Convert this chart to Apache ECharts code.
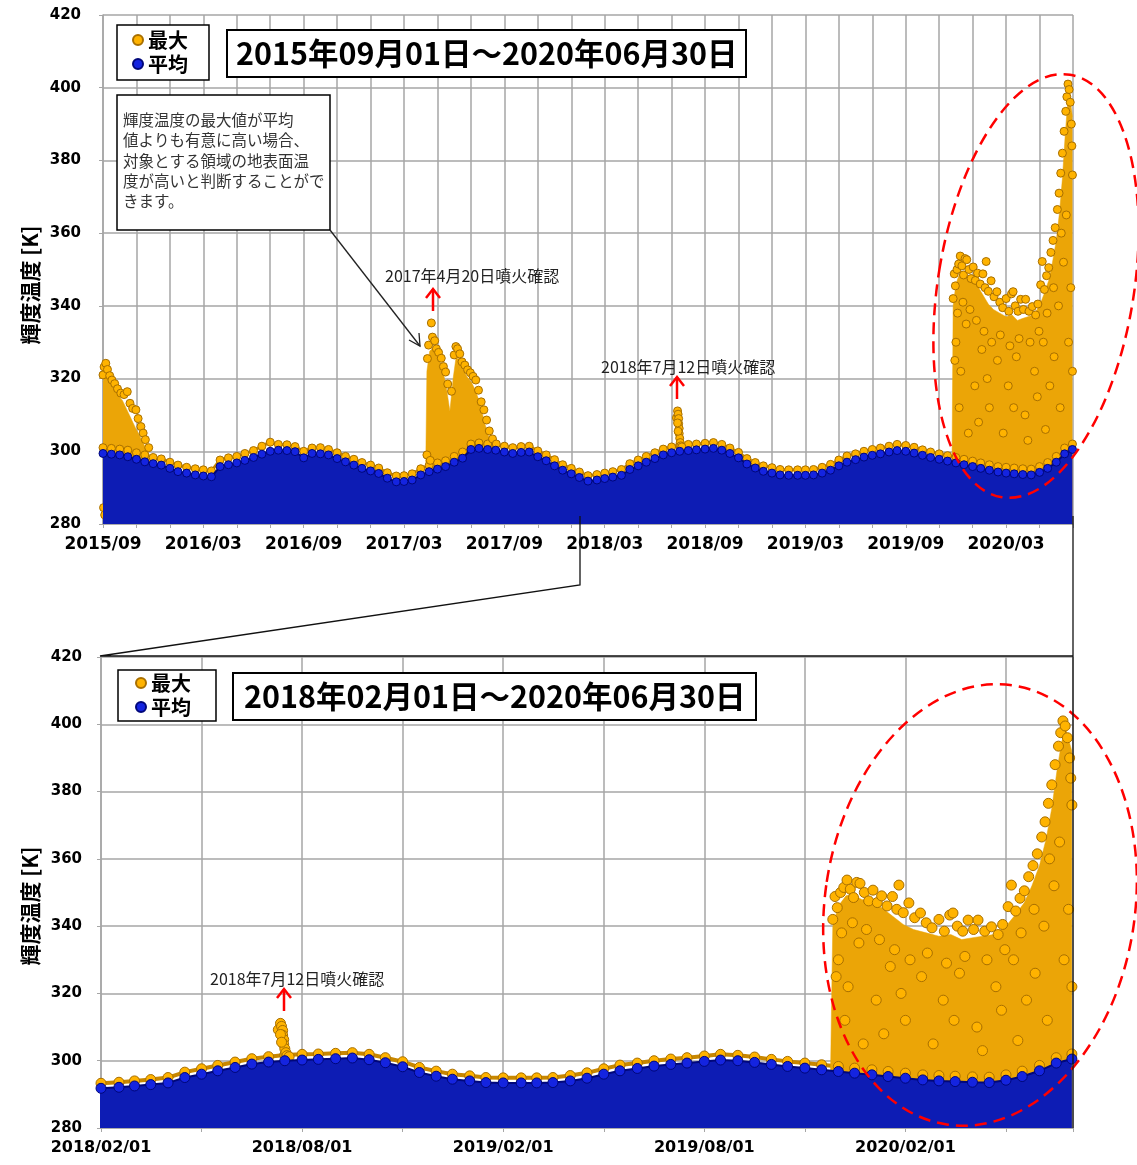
<!DOCTYPE html>
<html><head><meta charset="utf-8">
<script src="https://cdn.jsdelivr.net/npm/echarts@6/dist/echarts.min.js"></script>
<style>html,body{margin:0;padding:0;background:#fff}#c{width:1137px;height:1165px}</style>
</head><body><div id="c"></div>
<script>
// ---- sampling dates (half-month) ----
const halfMonthDates = [
"2015-09-01","2015-09-16","2015-10-01","2015-10-16","2015-11-01","2015-11-16","2015-12-01","2015-12-16",
"2016-01-01","2016-01-16","2016-02-01","2016-02-16","2016-03-01","2016-03-16","2016-04-01","2016-04-16","2016-05-01","2016-05-16","2016-06-01","2016-06-16","2016-07-01","2016-07-16","2016-08-01","2016-08-16","2016-09-01","2016-09-16","2016-10-01","2016-10-16","2016-11-01","2016-11-16","2016-12-01","2016-12-16",
"2017-01-01","2017-01-16","2017-02-01","2017-02-16","2017-03-01","2017-03-16","2017-04-01","2017-04-16","2017-05-01","2017-05-16","2017-06-01","2017-06-16","2017-07-01","2017-07-16","2017-08-01","2017-08-16","2017-09-01","2017-09-16","2017-10-01","2017-10-16","2017-11-01","2017-11-16","2017-12-01","2017-12-16",
"2018-01-01","2018-01-16","2018-02-01","2018-02-16","2018-03-01","2018-03-16","2018-04-01","2018-04-16","2018-05-01","2018-05-16","2018-06-01","2018-06-16","2018-07-01","2018-07-16","2018-08-01","2018-08-16","2018-09-01","2018-09-16","2018-10-01","2018-10-16","2018-11-01","2018-11-16","2018-12-01","2018-12-16",
"2019-01-01","2019-01-16","2019-02-01","2019-02-16","2019-03-01","2019-03-16","2019-04-01","2019-04-16","2019-05-01","2019-05-16","2019-06-01","2019-06-16","2019-07-01","2019-07-16","2019-08-01","2019-08-16","2019-09-01","2019-09-16","2019-10-01","2019-10-16","2019-11-01","2019-11-16","2019-12-01","2019-12-16",
"2020-01-01","2020-01-16","2020-02-01","2020-02-16","2020-03-01","2020-03-16","2020-04-01","2020-04-16","2020-05-01","2020-05-16","2020-06-01","2020-06-16","2020-06-30"];

// 平均 (mean) : upper edge of the dense band
const meanTop = [
299.4,299.2,299.0,298.5,297.8,297.1,296.6,296.2,
295.3,294.4,294.0,293.5,293.2,293.0,295.8,296.3,296.8,297.5,298.3,299.2,300.0,300.3,300.2,299.9,298.2,299.4,299.3,299.0,298.0,297.1,296.2,295.3,
294.6,293.9,292.6,291.6,291.7,292.1,293.5,294.4,295.1,295.8,297.0,298.1,300.5,300.8,300.5,300.3,299.8,299.4,299.7,299.8,298.5,297.4,296.0,294.8,
293.8,292.8,291.8,292.1,292.5,292.9,293.4,295.0,296.0,297.0,298.0,299.0,299.6,300.0,300.2,300.4,300.6,300.8,300.3,299.4,298.2,296.5,295.4,294.5,
294.0,293.5,293.4,293.4,293.4,293.5,294.0,294.8,296.0,297.0,297.7,298.4,298.9,299.3,299.8,300.2,300.0,299.5,298.9,298.3,297.8,297.3,296.8,296.3,
295.8,295.3,294.8,294.3,294.0,293.8,293.6,293.5,294.2,295.3,297.0,299.3,300.5];

// 最大 (max) : thin rim just above the mean band
const maxRim = [
301.0,300.8,300.6,300.3,299.6,299.0,298.3,297.9,
297.0,296.2,295.6,295.2,294.9,294.6,297.6,298.2,298.6,299.4,300.2,301.4,302.5,301.9,301.8,301.3,300.0,300.9,301.0,300.5,299.6,298.6,297.8,296.9,
296.2,295.4,294.1,293.2,293.3,293.8,295.2,296.1,296.8,297.4,298.6,299.8,302.0,302.3,302.0,301.9,301.4,301.0,301.3,301.4,300.1,299.0,297.7,296.3,
295.3,294.3,293.3,293.6,294.0,294.4,295.0,296.6,297.6,298.6,299.6,300.6,301.2,301.7,301.9,302.0,302.2,302.4,301.9,300.9,299.7,298.0,296.9,296.0,
295.5,295.0,294.9,294.9,294.9,295.0,295.6,296.4,297.6,298.7,299.3,300.0,300.5,300.9,301.4,301.9,301.6,301.1,300.4,299.8,299.3,298.8,298.3,297.8,
297.3,296.8,296.3,295.8,295.6,295.4,295.2,295.1,295.8,296.9,298.6,300.9,302.0];

// dense cores of the max-value clouds (upper edge)
const maxCore2015 = [["2015-09-01",319],["2015-09-06",322],["2015-09-12",319.5],["2015-09-20",317.5],["2015-09-28",315.5],["2015-10-06",314],["2015-10-14",311.5],["2015-10-22",309],["2015-10-30",306.5],["2015-11-06",304.5],["2015-11-14",302],["2015-11-22",299.5],["2015-11-28",298]];
const maxCore2017 = [["2017-04-10",297],["2017-04-12",322],["2017-04-17",327.5],["2017-04-23",328.5],["2017-04-30",326.5],["2017-05-06",324.5],["2017-05-12",321.5],["2017-05-18",317],["2017-05-24",311],["2017-05-30",320],["2017-06-04",325.5],["2017-06-10",325.5],["2017-06-17",322.5],["2017-06-24",320.5],["2017-07-02",319],["2017-07-10",316.5],["2017-07-18",313],["2017-07-26",308],["2017-08-03",304],["2017-08-12",301.5],["2017-08-20",300]];
const maxCore2020 = [["2019-11-24",297],["2019-11-26",340],["2019-12-01",346],["2019-12-08",349],["2019-12-15",349.5],["2019-12-22",348],["2020-01-01",347],["2020-01-10",345.5],["2020-01-20",343],["2020-01-30",340.5],["2020-02-08",339],["2020-02-19",338],["2020-03-01",337],["2020-03-12",337.5],["2020-03-22",336],["2020-03-31",336.5],["2020-04-10",337],["2020-04-20",337.5],["2020-05-01",340],["2020-05-10",343.5],["2020-05-18",347],["2020-05-25",352],["2020-06-01",358],["2020-06-07",366],["2020-06-12",375],["2020-06-17",387],["2020-06-21",395],["2020-06-25",398],["2020-06-30",392]];

// individual max points
const maxPoints2015 = [["2015-09-01",321],["2015-09-03",323.2],["2015-09-06",324.2],["2015-09-09",322.5],["2015-09-13",320.8],["2015-09-17",319.6],["2015-09-22",318.6],["2015-09-27",317.2],["2015-10-03",316],["2015-10-09",315.6],["2015-10-15",316.4],["2015-10-20",313.2],["2015-10-25",311.8],["2015-10-31",311.4],["2015-11-04",309],["2015-11-09",306.8],["2015-11-13",305],["2015-11-17",303.2],["2015-11-23",301],["2015-09-02",284.5],["2015-09-04",282.5]];
const maxPoints2017 = [["2017-04-20",335.3],["2017-04-22",331.4],["2017-04-15",329.2],["2017-04-13",325.5],["2017-04-26",330.4],["2017-04-29",328.2],["2017-05-03",327.2],["2017-05-08",325.6],["2017-05-12",323.3],["2017-05-16",321.8],["2017-05-20",318.5],["2017-05-27",316.5],["2017-06-01",326.5],["2017-06-04",328.8],["2017-06-07",328.2],["2017-06-11",326.8],["2017-06-15",324.6],["2017-06-20",323.7],["2017-06-25",322.4],["2017-06-30",321.6],["2017-07-05",320.6],["2017-07-10",319.6],["2017-07-15",316.8],["2017-07-20",313.6],["2017-07-25",311.4],["2017-07-30",308.6],["2017-08-04",305.6],["2017-08-10",303.4],["2017-08-17",302],["2017-04-12",299],["2017-04-18",297.5]];
const maxPoints2018 = [["2018-07-10",309.2],["2018-07-12",311.1],["2018-07-13",310.2],["2018-07-14",309.0],["2018-07-14",307.6],["2018-07-15",306.3],["2018-07-15",304.9],["2018-07-16",303.6],["2018-07-17",302.4],["2018-07-18",301.5],["2018-07-20",301.2],["2018-07-12",307.8],["2018-07-13",305.5]];
const maxPoints2020 = [["2019-11-26",342],["2019-11-28",348.8],["2019-11-30",345.5],["2019-12-03",350],["2019-12-06",351.5],["2019-12-09",353.7],["2019-12-12",351],["2019-12-15",348.5],["2019-12-18",353],["2019-12-21",352.7],["2019-12-25",350],["2019-12-29",347.5],["2020-01-02",350.7],["2020-01-06",347],["2020-01-10",349],["2020-01-15",346],["2020-01-20",348.8],["2020-01-24",345],["2020-01-26",352.2],["2020-01-30",344],["2020-02-04",346.9],["2020-02-09",342.5],["2020-02-14",343.9],["2020-02-19",341],["2020-02-24",339.5],["2020-03-01",342],["2020-03-06",338.5],["2020-03-11",343.3],["2020-03-14",343.9],["2020-03-18",340],["2020-03-23",338.5],["2020-03-28",341.8],["2020-04-02",339],["2020-04-06",341.8],["2020-04-12",338.5],["2020-04-18",339.8],["2020-04-24",337.5],["2020-04-28",340.5],["2020-05-03",345.8],["2020-05-06",352.2],["2020-05-10",344.5],["2020-05-14",348.3],["2020-05-18",350.5],["2020-05-22",354.7],["2020-05-26",358],["2020-05-30",361.5],["2020-06-03",366.5],["2020-06-06",371],["2020-06-09",376.5],["2020-06-12",382],["2020-06-15",388],["2020-06-18",393.5],["2020-06-20",397.5],["2020-06-22",401],["2020-06-24",399.5],["2020-06-26",396],["2020-06-28",390],["2020-06-29",384],["2020-06-30",376],
["2019-12-01",330],["2019-12-10",322],["2019-12-20",335],["2020-01-05",318],["2020-01-18",328],["2020-02-01",312],["2020-02-15",325],["2020-03-05",318],["2020-03-20",326],["2020-04-05",310],["2020-04-22",322],["2020-05-08",330],["2020-05-20",318],["2020-06-05",340],["2020-06-14",352],["2020-06-19",365],["2020-06-27",345],["2020-06-30",322],
["2019-12-04",338],["2019-12-14",341],["2019-12-27",339],["2020-01-08",336],["2020-01-22",333],["2020-02-05",330],["2020-02-20",332],["2020-03-08",329],["2020-03-25",331],["2020-04-14",330],["2020-04-30",333],["2020-05-15",338],["2020-05-27",345],["2020-06-10",360],["2019-11-29",325],["2019-12-07",312],["2019-12-24",305],["2020-01-12",308],["2020-01-28",320],["2020-02-25",305],["2020-03-15",312],["2020-04-10",303],["2020-04-27",315],["2020-05-12",306],["2020-05-28",326],["2020-06-08",312],["2020-06-23",330]];

// tick labels
const topTickLabels = ["2015/09","2016/03","2016/09","2017/03","2017/09","2018/03","2018/09","2019/03","2019/09","2020/03"];
const bottomTickLabels = ["2018/02/01","2018/08/01","2019/02/01","2019/08/01","2020/02/01"];

// ---- helpers ----
function mIdx(s){const [y,m,d]=s.split('-').map(Number);const dim=new Date(y,m,0).getDate();return (y-2015)*12+(m-9)+(d-1)/dim;}
const ORANGE='#FFB300', ORANGE_B='#A86F00', ORANGE_AREA='#EBA507';
const BLUE='#1424e0', BLUE_B='#00077a', BLUE_AREA='#0d1cb4';

function buildSeries(g){
  const off = g===0?0:29;
  const X = s => mIdx(s)-off;
  const keep = p => p[0] >= -1;
  const ss = g===0?8:10;
  const pts = arr => arr.map(p=>[X(p[0]),p[1]]).filter(keep);
  const rimData = halfMonthDates.map((d,i)=>[X(d),maxRim[i]]).filter(keep);
  const meanData = halfMonthDates.map((d,i)=>[X(d),meanTop[i]]).filter(keep);
  const base = {xAxisIndex:g,yAxisIndex:g,silent:true,animation:false};
  const out=[];
  out.push(Object.assign({},base,{type:'line',name:'最大rim',data:rimData,showSymbol:false,symbol:'none',lineStyle:{color:'#C88700',width:g?4:3},z:2}));
  [maxCore2015,maxCore2017,maxCore2020].forEach(c=>{const d=pts(c); if(d.length>1) out.push(Object.assign({},base,{type:'line',name:'最大core',data:d,showSymbol:false,symbol:'none',lineStyle:{color:ORANGE_AREA,width:0.5},areaStyle:{color:ORANGE_AREA,opacity:1,origin:'start'},z:3}));});
  out.push(Object.assign({},base,{type:'scatter',name:'最大',data:rimData.concat(pts(maxPoints2015),pts(maxPoints2017),pts(maxPoints2018),pts(maxPoints2020)),symbolSize:ss,itemStyle:{color:ORANGE,borderColor:ORANGE_B,borderWidth:1,opacity:1},z:4}));
  out.push(Object.assign({},base,{type:'line',name:'平均band',data:meanData,showSymbol:false,symbol:'none',lineStyle:{color:BLUE_B,width:2},areaStyle:{color:BLUE_AREA,opacity:1,origin:'start'},z:5}));
  out.push(Object.assign({},base,{type:'scatter',name:'平均',data:meanData,symbolSize:ss,itemStyle:{color:BLUE,borderColor:BLUE_B,borderWidth:1,opacity:1},z:6}));
  return out;
}

const GRID='#a6a6a6';
const tickFont = {fontFamily:'DejaVu Sans',fontWeight:'bold',color:'#000'};
function xAxis(g){
  return {type:'value',gridIndex:g,min:0,max:g?29:58,interval:g?3:2,
    axisLine:{show:true,lineStyle:{color:GRID,width:1.5}},
    axisTick:{show:true,length:4,lineStyle:{color:GRID}},
    splitLine:{show:true,lineStyle:{color:GRID,width:1.5}},
    axisLabel:Object.assign({},tickFont,{fontSize:g?16:17,margin:12,showMinLabel:true,showMaxLabel:true,
      formatter:v=>{const k=v/6; if(Math.abs(k-Math.round(k))>1e-6) return ''; const a=g?bottomTickLabels:topTickLabels; return a[Math.round(k)]||'';}})};
}
function yAxis(g){
  return {type:'value',gridIndex:g,min:280,max:420,interval:20,
    axisLine:{show:true,lineStyle:{color:GRID,width:1.5}},
    axisTick:{show:true,length:4,lineStyle:{color:GRID}},
    splitLine:{show:true,lineStyle:{color:GRID,width:1.5}},
    axisLabel:Object.assign({},tickFont,{fontSize:15,margin:g?19:22})};
}
const legendBase = {orient:'vertical',icon:'circle',itemWidth:10,itemHeight:10,itemGap:4,
  borderColor:'#000',borderWidth:1.5,backgroundColor:'#fff',selectedMode:false,
  data:['最大','平均'],textStyle:{fontSize:20,fontFamily:'Noto Sans CJK JP',fontWeight:'bold',color:'#000'}};
const titleBase = {borderColor:'#000',borderWidth:2,backgroundColor:'#fff',
  textStyle:{fontSize:30.5,fontFamily:'Noto Sans CJK JP',fontWeight:'bold',color:'#000'}};

const annText = '輝度温度の最大値が平均\n値よりも有意に高い場合、\n対象とする領域の地表面温\n度が高いと判断することがで\nきます。';
const smallFont = '15.5px "Noto Sans CJK JP"';
const noteFont = '16px "Noto Sans CJK JP"';
function redArrow(x,y1,y2){
  return [{type:'line',shape:{x1:x,y1:y1,x2:x,y2:y2},style:{stroke:'#ff0000',lineWidth:2.5}},
          {type:'polyline',shape:{points:[[x-7,y2+9],[x,y2],[x+7,y2+9]]},style:{stroke:'#ff0000',lineWidth:2.5,fill:null}}];
}
const graphics = [].concat(
  [{type:'text',x:30,y:285,rotation:Math.PI/2,style:{text:'輝度温度 [K]',font:'bold 21px "Noto Sans CJK JP"',fill:'#000',align:'center',verticalAlign:'middle'}},
   {type:'text',x:30,y:906,rotation:Math.PI/2,style:{text:'輝度温度 [K]',font:'bold 21px "Noto Sans CJK JP"',fill:'#000',align:'center',verticalAlign:'middle'}},
   {type:'rect',shape:{x:117,y:95,width:213,height:135},style:{fill:'#fff',stroke:'#000',lineWidth:1.5},z:100},
   {type:'text',x:123,y:110,style:{text:annText,font:smallFont,lineHeight:20.3,fill:'#333',align:'left',verticalAlign:'top'},z:101},
   {type:'polyline',shape:{points:[[330,230],[420,346]]},style:{stroke:'#222',lineWidth:1.3,fill:null},z:100},
   {type:'polyline',shape:{points:[[409,340],[420,346],[419,333]]},style:{stroke:'#222',lineWidth:1.3,fill:null},z:100},
   {type:'text',x:385,y:276,style:{text:'2017年4月20日噴火確認',font:noteFont,fill:'#222',align:'left',verticalAlign:'middle'},z:100},
   {type:'text',x:601,y:367,style:{text:'2018年7月12日噴火確認',font:noteFont,fill:'#222',align:'left',verticalAlign:'middle'},z:100},
   {type:'text',x:210,y:979,style:{text:'2018年7月12日噴火確認',font:noteFont,fill:'#222',align:'left',verticalAlign:'middle'},z:100},
   {type:'ellipse',shape:{cx:1036,cy:286,rx:98,ry:214},originX:1036,originY:286,rotation:-0.16,style:{stroke:'#ff0000',lineWidth:2.5,fill:null,lineDash:[12,7]},z:100},
   {type:'ellipse',shape:{cx:980,cy:905,rx:155,ry:222},originX:980,originY:905,rotation:-0.15,style:{stroke:'#ff0000',lineWidth:2.5,fill:null,lineDash:[12,7]},z:100},
   {type:'polyline',shape:{points:[[580,516],[580,585],[100,656],[1073,656]]},style:{stroke:'#111',lineWidth:1.3,fill:null},z:100},
   {type:'polyline',shape:{points:[[1073,516],[1073,1128]]},style:{stroke:'#111',lineWidth:1.3,fill:null},z:100}
  ],
  redArrow(433,311,289).map(e=>Object.assign(e,{z:100})),
  redArrow(677,399,377).map(e=>Object.assign(e,{z:100})),
  redArrow(284,1011,989).map(e=>Object.assign(e,{z:100}))
);

const chart = echarts.init(document.getElementById('c'),null,{renderer:'canvas'});
chart.setOption({
  animation:false,
  backgroundColor:'#fff',
  grid:[{left:103,top:15,width:970,height:509,show:false},{left:101,top:657,width:972,height:471,show:false}],
  xAxis:[xAxis(0),xAxis(1)],
  yAxis:[yAxis(0),yAxis(1)],
  title:[Object.assign({},titleBase,{text:'2015年09月01日～2020年06月30日',left:227,top:30,padding:[8,9,9,9]}),
         Object.assign({},titleBase,{text:'2018年02月01日～2020年06月30日',left:233,top:673,padding:[8,11,9,11]})],
  legend:[Object.assign({},legendBase,{left:117,top:25,padding:[5,21,6,15]}),
          Object.assign({},legendBase,{left:118,top:670,padding:[3,25,4,17]})],
  series:buildSeries(0).concat(buildSeries(1)),
  graphic:graphics
});
</script></body></html>
